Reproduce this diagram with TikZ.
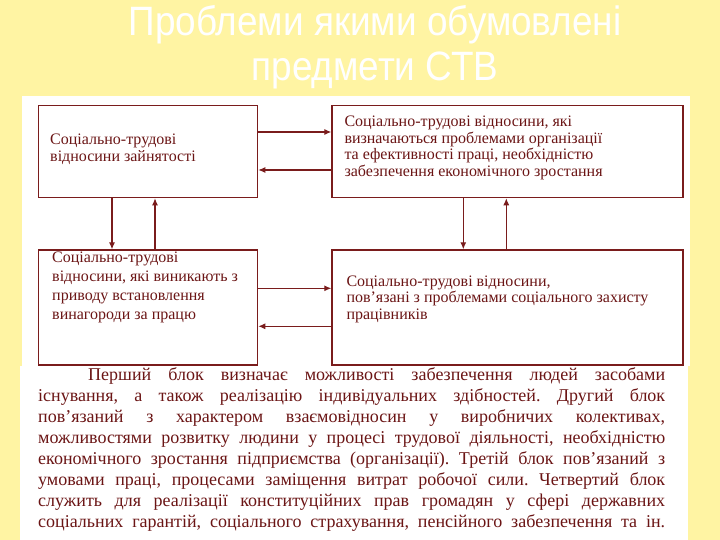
\documentclass[tikz,border=0pt]{standalone}
\usepackage{fontspec}
\setmainfont{Liberation Serif}
\newfontfamily\titlefont[FakeStretch=0.9]{Liberation Sans}
\usetikzlibrary{arrows.meta,positioning}
\definecolor{PageYellow}{HTML}{FFF4A3}
\definecolor{LineRed}{HTML}{7A1C1C}
\definecolor{TextRed}{HTML}{6B1515}

\begin{document}
\begin{tikzpicture}[x=1pt,y=-1pt,
    blk/.style={draw=LineRed, line width=1.3pt, fill=white, minimum width=219pt, minimum height=92pt, inner sep=0pt},
    lbl/.style={anchor=north west, align=left, inner sep=0pt, text=TextRed, font=\fontsize{16}{16.5}\selectfont},
    arr/.style={-{Latex[length=7pt,width=6pt]}, line width=1.1pt, draw=LineRed}
]
\useasboundingbox (0,0) rectangle (720,540);
\fill[PageYellow] (0,0) rectangle (720,540);
\fill[white] (22,96) rectangle (690,366);
\fill[white] (20,366) rectangle (688,540);

% заголовок
\node[text=white, font=\titlefont\fontsize{41}{45}\selectfont, align=center] (title) at (375,47) {Проблеми якими обумовлені\\предмети СТВ};

% чотири блоки
\node[blk, anchor=north west] (empl) at (38,105) {};
\node[blk, minimum width=351pt, right=73pt of empl] (org) {};
\node[blk, minimum height=115pt, below=51pt of empl] (pay) {};
\node[blk, minimum width=351pt, minimum height=115pt, below=51pt of org] (prot) {};

\node[lbl] (emplText) at ([shift={(12,29)}]empl.north west) {Соціально-трудові\\відносини зайнятості};
\node[lbl] (orgText) at ([shift={(13,11)}]org.north west) {Соціально-трудові відносини, які\\визначаються проблемами організації\\та ефективності праці, необхідністю\\забезпечення економічного зростання};
\node[lbl, font=\fontsize{16}{19}\selectfont] (payText) at ([shift={(14,2)}]pay.north west) {Соціально-трудові\\відносини, які виникають з\\приводу встановлення\\винагороди за працю};
\node[lbl] (protText) at ([shift={(15,26)}]prot.north west) {Соціально-трудові відносини,\\пов'язані з проблемами соціального захисту\\працівників};

% зв'язки між блоками
\draw[arr] ([yshift=-27pt]empl.north east) -- ([yshift=-27pt]org.north west);
\draw[arr] ([yshift=-65pt]org.north west) -- ([yshift=-65pt]empl.north east);
\draw[arr] ([xshift=74pt]empl.south west) -- ([xshift=74pt]pay.north west);
\draw[arr] ([xshift=117pt]pay.north west) -- ([xshift=117pt]empl.south west);
\draw[arr] ([xshift=132pt]org.south west) -- ([xshift=132pt]prot.north west);
\draw[arr] ([xshift=175pt]prot.north west) -- ([xshift=175pt]org.south west);
\draw[arr] ([yshift=-39pt]pay.north east) -- ([yshift=-39pt]prot.north west);
\draw[arr] ([yshift=-77pt]prot.north west) -- ([yshift=-77pt]pay.north east);

% пояснювальний текст
\node[anchor=north west, inner sep=0pt, text width=627pt, align=justify, text=TextRed, font=\fontsize{18}{21.1}\selectfont\frenchspacing] (expl) at (38,367) {\hspace*{50pt}Перший блок визначає можливості забезпечення людей засобами\linebreak
існування, а також реалізацію індивідуальних здібностей. Другий блок\linebreak
пов'язаний з характером взаємовідносин у виробничих колективах,\linebreak
можливостями розвитку людини у процесі трудової діяльності, необхідністю\linebreak
економічного зростання підприємства (організації). Третій блок пов'язаний з\linebreak
умовами праці, процесами заміщення витрат робочої сили. Четвертий блок\linebreak
служить для реалізації конституційних прав громадян у сфері державних\linebreak
\makebox[\linewidth][s]{соціальних гарантій, соціального страхування, пенсійного забезпечення та ін.}};
\end{tikzpicture}
\end{document}
